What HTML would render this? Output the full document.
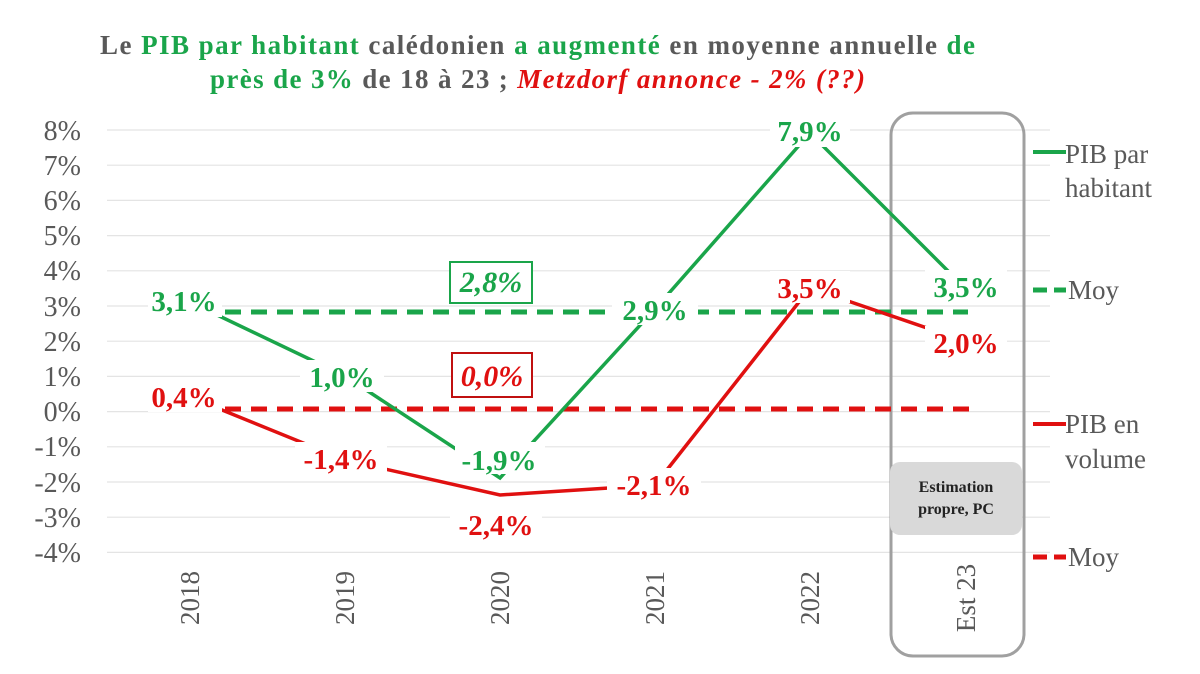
<!DOCTYPE html>
<html><head><meta charset="utf-8"><style>
body{margin:0;background:#fff}
svg{display:block;font-family:"Liberation Serif",serif}
</style></head><body>
<svg width="1200" height="674" viewBox="0 0 1200 674">
<rect width="1200" height="674" fill="#fff"/>
<g font-weight="bold" font-size="27">
<text x="100" y="54" textLength="875" lengthAdjust="spacing"><tspan fill="#595959">Le </tspan><tspan fill="#1aa54a">PIB par habitant</tspan><tspan fill="#595959">   calédonien </tspan><tspan fill="#1aa54a">a augmenté</tspan><tspan fill="#595959"> en moyenne annuelle </tspan><tspan fill="#1aa54a">de</tspan></text>
<text x="210" y="88" textLength="655" lengthAdjust="spacing"><tspan fill="#1aa54a">près de 3%</tspan><tspan fill="#595959"> de 18 à 23 ; </tspan><tspan fill="#e01010" font-style="italic">Metzdorf annonce - 2% (??)</tspan></text>
</g>
<g stroke="#e4e4e4" stroke-width="1.2">
<line x1="107" x2="1050" y1="130" y2="130"/><line x1="107" x2="1050" y1="165.2" y2="165.2"/><line x1="107" x2="1050" y1="200.4" y2="200.4"/><line x1="107" x2="1050" y1="235.6" y2="235.6"/><line x1="107" x2="1050" y1="270.8" y2="270.8"/><line x1="107" x2="1050" y1="306" y2="306"/><line x1="107" x2="1050" y1="341.2" y2="341.2"/><line x1="107" x2="1050" y1="376.4" y2="376.4"/><line x1="107" x2="1050" y1="411.6" y2="411.6"/><line x1="107" x2="1050" y1="446.8" y2="446.8"/><line x1="107" x2="1050" y1="482" y2="482"/><line x1="107" x2="1050" y1="517.2" y2="517.2"/><line x1="107" x2="1050" y1="552.4" y2="552.4"/>
</g>
<g fill="#595959" font-size="28" text-anchor="end">
<text x="81" y="140">8%</text><text x="81" y="175">7%</text><text x="81" y="210">6%</text><text x="81" y="245">5%</text><text x="81" y="280">4%</text><text x="81" y="316">3%</text><text x="81" y="351">2%</text><text x="81" y="386">1%</text><text x="81" y="421">0%</text><text x="81" y="456">-1%</text><text x="81" y="492">-2%</text><text x="81" y="527">-3%</text><text x="81" y="562">-4%</text>
</g>
<g fill="#595959" font-size="27">
<text transform="translate(199,598) rotate(-90)" text-anchor="middle">2018</text>
<text transform="translate(354,598) rotate(-90)" text-anchor="middle">2019</text>
<text transform="translate(509,598) rotate(-90)" text-anchor="middle">2020</text>
<text transform="translate(664,598) rotate(-90)" text-anchor="middle">2021</text>
<text transform="translate(819,598) rotate(-90)" text-anchor="middle">2022</text>
<text transform="translate(975,598) rotate(-90)" text-anchor="middle">Est 23</text>
</g>
<rect x="891" y="113" width="133" height="543" rx="22" fill="none" stroke="#a0a0a0" stroke-width="3"/>
<line x1="225" x2="968" y1="312" y2="312" stroke="#1aa54a" stroke-width="5" stroke-dasharray="16,10"/>
<line x1="225" x2="975" y1="409" y2="409" stroke="#e01010" stroke-width="5" stroke-dasharray="16,10"/>
<polyline points="190,302 345,376 500,478 655,309 810,133 965,288" fill="none" stroke="#1aa54a" stroke-width="3.5"/>
<polyline points="190,397 345,460 500,495 655,485 810,288 965,341" fill="none" stroke="#e01010" stroke-width="3.5"/>
<g font-size="29" font-weight="bold" text-anchor="middle">
<g fill="#fff"><rect x="148" y="285" width="74" height="32"/><rect x="300" y="360" width="84" height="32"/><rect x="455" y="442" width="90" height="32"/><rect x="612" y="293" width="86" height="32"/><rect x="770" y="115" width="80" height="32"/><rect x="925" y="270" width="82" height="32"/>
<rect x="148" y="380" width="74" height="32"/><rect x="295" y="442" width="92" height="32"/><rect x="450" y="508" width="92" height="32"/><rect x="607" y="468" width="94" height="32"/><rect x="770" y="271" width="80" height="32"/><rect x="925" y="326" width="82" height="32"/></g>
<g fill="#1aa54a"><text x="184" y="311">3,1%</text><text x="342" y="387">1,0%</text><text x="499" y="470">-1,9%</text><text x="655" y="320">2,9%</text><text x="810" y="141">7,9%</text><text x="966" y="297">3,5%</text></g>
<g fill="#e01010"><text x="184" y="407">0,4%</text><text x="341" y="469">-1,4%</text><text x="496" y="535">-2,4%</text><text x="654" y="495">-2,1%</text><text x="810" y="298">3,5%</text><text x="966" y="353">2,0%</text></g>
</g>
<rect x="450" y="262" width="82" height="41" fill="#fff" stroke="#1aa54a" stroke-width="2"/>
<text x="491" y="292" fill="#1aa54a" font-size="30" font-weight="bold" font-style="italic" text-anchor="middle">2,8%</text>
<rect x="452" y="353" width="80" height="44" fill="#fff" stroke="#c01010" stroke-width="2"/>
<text x="492" y="386" fill="#e01010" font-size="30" font-weight="bold" font-style="italic" text-anchor="middle">0,0%</text>
<rect x="890" y="462" width="132" height="73" rx="10" fill="#d9d9d9"/>
<text x="956" y="492" font-size="16" font-weight="bold" text-anchor="middle" fill="#222">Estimation</text>
<text x="956" y="514" font-size="16" font-weight="bold" text-anchor="middle" fill="#222">propre, PC</text>
<g font-size="27" fill="#595959">
<line x1="1033" x2="1066" y1="152" y2="152" stroke="#1aa54a" stroke-width="4"/>
<text x="1065" y="163">PIB par</text><text x="1065" y="197">habitant</text>
<line x1="1033" x2="1066" y1="290" y2="290" stroke="#1aa54a" stroke-width="5" stroke-dasharray="14,7"/>
<text x="1068" y="299">Moy</text>
<line x1="1033" x2="1066" y1="424" y2="424" stroke="#e01010" stroke-width="4"/>
<text x="1065" y="433">PIB en</text><text x="1065" y="468">volume</text>
<line x1="1033" x2="1066" y1="557" y2="557" stroke="#e01010" stroke-width="5" stroke-dasharray="14,7"/>
<text x="1068" y="566">Moy</text>
</g>
</svg>
</body></html>
